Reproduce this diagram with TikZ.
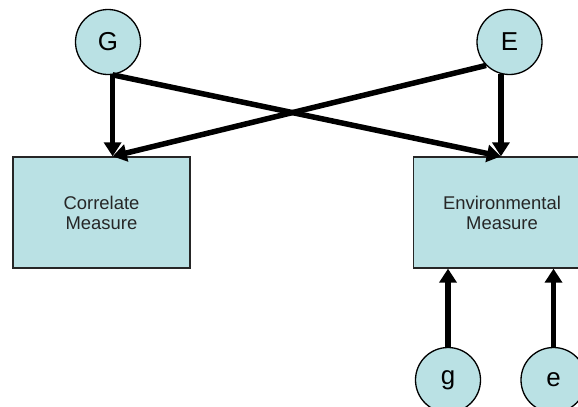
\documentclass[tikz,border=0pt]{standalone}
\usepackage{fontspec}
\setmainfont{Liberation Sans}
\usetikzlibrary{arrows.meta}
\definecolor{nodefill}{RGB}{186,225,228}

\begin{document}
\begin{tikzpicture}[x=1bp,y=-1bp,
        latent/.style={circle,draw=black,line width=1.3bp,fill=nodefill,
            minimum size=65bp,inner sep=0pt,font=\fontsize{26}{30}\selectfont},
        measure/.style={rectangle,draw=black!85,line width=1.3bp,fill=nodefill,
            minimum width=177bp,minimum height=111bp,align=center,
            text=black!85,font=\fontsize{18.5}{20}\selectfont},
        effect/.style={line width=5.5bp,-{Triangle[length=14bp,width=17bp]}}
    ]%
        \clip (0,0) rectangle (578,406);
        % latent factors and measures
        \node[latent] (G) at (108,42) {G};
        \node[latent] (E) at (509.5,42) {E};
        \node[measure] (corr) at (101.5,212.5) {Correlate\\Measure};
        \node[measure] (env) at (502,212.5) {Environmental\\Measure};
        \node[latent] (g) at (448,380) {g};
        \node[latent] (e) at (553.5,380) {e};
        \begin{scope}[effect]
            \draw (G.-82)--(G.-82 |- corr.north);
            \draw (G.-82)--(E.-105 |- env.north);
            \draw (E.-105)--(E.-105 |- env.north);
            \draw (E.-135)--(G.-82 |- corr.north);
            \draw (g.north)--(g.north |- env.south);
            \draw (e.north)--(e.north |- env.south);
        \end{scope}
    \end{tikzpicture}
\end{document}
